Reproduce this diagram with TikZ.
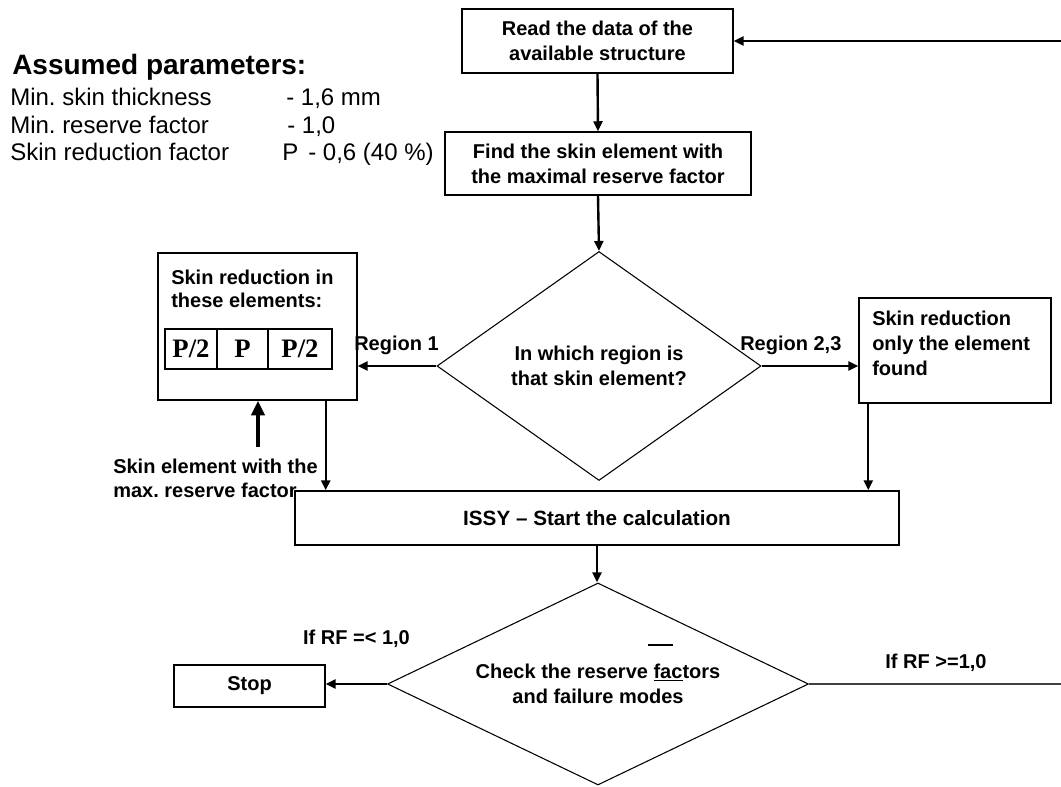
\documentclass[tikz,border=0pt]{standalone}
\usepackage{fontspec}
\setmainfont{Liberation Sans}
\newfontfamily\tabfont{Liberation Serif}
\usetikzlibrary{shapes.geometric,arrows.meta,calc}
\frenchspacing
\begin{document}
\begin{tikzpicture}[x=0.75pt,y=-0.75pt,
  box/.style={draw=black, line width=1.1pt, inner sep=0pt, align=center,
    font=\bfseries\fontsize{15}{18.75}\selectfont},
  dia/.style={draw=black, line width=0.8pt, shape=diamond, inner sep=0pt, align=center,
    font=\bfseries\fontsize{15}{18.75}\selectfont},
  cell/.style={draw=black, line width=0.8pt, inner sep=0pt, font=\tabfont\bfseries\fontsize{20}{22}\selectfont},
  conn/.style={line width=1.8pt, -{Triangle[length=7.5pt,width=6.75pt]}},
  bigconn/.style={line width=2.4pt, -{Triangle[length=11pt,width=10pt]}},
  lbl/.style={inner sep=0pt, font=\bfseries\fontsize{15}{18}\selectfont},
  ptext/.style={inner sep=0pt, anchor=base west, font=\fontsize{18}{20}\selectfont},
  ptitle/.style={inner sep=0pt, anchor=base west, font=\bfseries\fontsize{21}{24}\selectfont},
]
\useasboundingbox (0,0) rectangle (1061,787);

% parameters
\node[ptitle] (title) at (12,75) {Assumed parameters:};
\node[ptext] (p1a) at (10,106) {Min. skin thickness};
\node[ptext] (p1b) at (286,106) {- 1,6 mm};
\node[ptext] (p2a) at (10,133.5) {Min. reserve factor};
\node[ptext] (p2b) at (287,133.5) {- 1,0};
\node[ptext] (p3a) at (10,161) {Skin reduction factor};
\node[ptext] (p3p) at (282,161) {P};
\node[ptext] (p3b) at (308,161) {- 0,6 (40 \%)};

% boxes
\node[box, minimum width=203.25pt, minimum height=48pt] (read) at (597.5,41)
  {Read the data of the\\available structure};
\node[box, minimum width=229.5pt, minimum height=47.25pt] (find) at (598,163.5)
  {Find the skin element with\\the maximal reserve factor};
\node[dia, aspect=1.415, minimum width=243pt, minimum height=171.75pt] (d1) at (599,366)
  {In which region is\\that skin element?};

\node[box, minimum width=149.25pt, minimum height=110.25pt] (red4) at (257.5,326.5) {};
\node[lbl, anchor=west, align=left, font=\bfseries\fontsize{15}{17.25}\selectfont] (red4t) at (171,289)
  {Skin reduction in\\these elements:};
\node[cell, minimum width=39pt, minimum height=30pt] (c1) at (191,349) {P/2};
\node[cell, minimum width=38.25pt, minimum height=30pt] (c2) at (242.5,349) {P};
\node[cell, minimum width=48pt, minimum height=30pt] (c3) at (300,349) {P/2};

\node[box, minimum width=144pt, minimum height=78.75pt] (red3) at (955,350.5) {};
\node[lbl, anchor=west, align=left, font=\bfseries\fontsize{15}{18.75}\selectfont] (red3t) at (872,343)
  {Skin reduction\\only the element\\found};

\node[box, minimum width=453pt, minimum height=40.5pt, font=\bfseries\fontsize{15.5}{19}\selectfont] (issy) at (597,518)
  {ISSY – Start the calculation};
\node[dia, aspect=2.08, minimum width=315.75pt, minimum height=151.5pt] (d2) at (598,684)
  {Check the reserve \underline{fac}tors\\and failure modes};
\node[box, minimum width=113.25pt, minimum height=31.5pt] (stop) at (249.5,686) {Stop};

% labels
\node[lbl, anchor=east] (r1) at (439,345) {Region 1};
\node[lbl, anchor=west] (r23) at (740,345) {Region 2,3};
\node[lbl, anchor=west, align=left] (skinlbl) at (113,478) {Skin element with the\\max. reserve factor};
\node[lbl] (rfle) at (356.5,639) {If RF =< 1,0};
\node[lbl] (rfge) at (936,663) {If RF >=1,0};

% connectors
\coordinate (fbin) at (1061,41);
\draw[conn] (fbin) -- (read.east);
\draw[conn] (read.south) -- (find.north);
\draw[conn] (find.south) -- (d1.north);
\draw[conn] (d1.west) -- (d1.west -| red4.east);
\draw[conn] (d1.east) -- (d1.east -| red3.west);
\coordinate (upstart) at (258,447);
\draw[bigconn] (upstart) -- (upstart |- red4.south);
\draw[conn] ([xshift=-24pt]red4.south east) -- ([xshift=-24pt]red4.south east |- issy.north);
\draw[conn] ([xshift=7.5pt]red3.south west) -- ([xshift=7.5pt]red3.south west |- issy.north);
\draw[conn] (issy.south) -- (issy.south |- d2.north);
\draw[conn] (d2.west) -- (d2.west -| stop.east);
\coordinate (rfout) at (1061,684);
\draw[line width=1.5pt, black!75] (d2.east) -- (rfout);
\draw[line width=1.5pt] (648,645) -- (673,645);
\end{tikzpicture}
\end{document}
